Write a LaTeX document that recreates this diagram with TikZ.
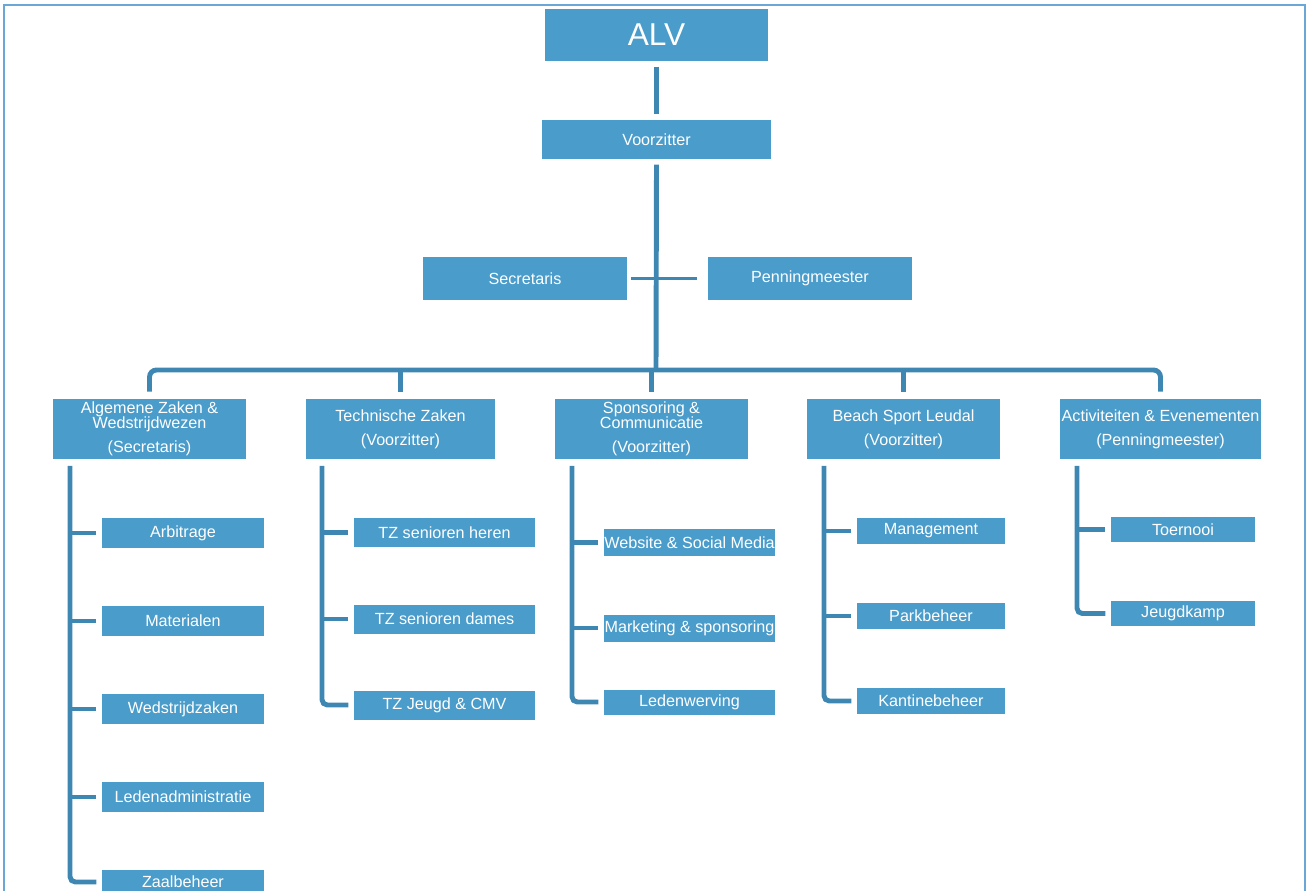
\documentclass[tikz,border=0pt]{standalone}
\usepackage{fontspec}
\setmainfont{Liberation Sans}
\usetikzlibrary{calc}

\definecolor{boxblue}{HTML}{4A9CCB}
\definecolor{lineblue}{HTML}{3F87B3}
\definecolor{frameblue}{HTML}{6AA6D6}
\newcommand{\pxu}{0.02cm}

\begin{document}
\begin{tikzpicture}[x=0.02cm, y=-0.02cm,
    box/.style={fill=boxblue, text=white, inner sep=0pt, align=center,
        font=\fontsize{9.2}{8.6}\selectfont},
    conn/.style={draw=lineblue, line width=2.8pt},
    thinconn/.style={draw=lineblue, line width=2.2pt}]
            \useasboundingbox (0,0) rectangle (1308,891);

            % Frame
            \draw[frameblue, line width=1pt] (4,5) rectangle (1305,910);

            % Top of the tree
            \node[box, minimum width=223*\pxu, minimum height=52*\pxu,
                font=\fontsize{18}{18}\selectfont] (alv) at (656.5,35) {ALV};
            \node[box, minimum width=229*\pxu, minimum height=39*\pxu] (voorz) at (656.5,139.5) {Voorzitter};
            \node[box, minimum width=204*\pxu, minimum height=43*\pxu] (secr) at (525,278.5) {Secretaris};
            \node[box, minimum width=204*\pxu, minimum height=43*\pxu] (penn) at (810,278.5) {Penningmeester};

            % Departments
            \node[box, minimum width=193*\pxu, minimum height=60*\pxu] (az) at (149.5,429)
                {Algemene Zaken \&\\Wedstrijdwezen\\[5pt](Secretaris)};
            \node[box, minimum width=189*\pxu, minimum height=60*\pxu] (tz) at (400.5,429)
                {Technische Zaken\\[5pt](Voorzitter)};
            \node[box, minimum width=193*\pxu, minimum height=60*\pxu] (sc) at (651.5,429)
                {Sponsoring \&\\Communicatie\\[5pt](Voorzitter)};
            \node[box, minimum width=193*\pxu, minimum height=60*\pxu] (bsl) at (903.5,429)
                {Beach Sport Leudal\\[5pt](Voorzitter)};
            \node[box, minimum width=201*\pxu, minimum height=60*\pxu] (ae) at (1160.5,429)
                {Activiteiten \& Evenementen\\[5pt](Penningmeester)};

            % Algemene Zaken
            \node[box, minimum width=162*\pxu, minimum height=30*\pxu] (arb) at (183,533) {Arbitrage};
            \node[box, minimum width=162*\pxu, minimum height=30*\pxu] (mat) at (183,621) {Materialen};
            \node[box, minimum width=162*\pxu, minimum height=30*\pxu] (wedz) at (183,709) {Wedstrijdzaken};
            \node[box, minimum width=162*\pxu, minimum height=30*\pxu] (ledadm) at (183,797) {Ledenadministratie};
            \node[box, minimum width=162*\pxu, minimum height=24*\pxu] (zaal) at (183,882) {Zaalbeheer};

            % Technische Zaken
            \node[box, minimum width=181*\pxu, minimum height=29*\pxu] (tzh) at (444.5,532.5) {TZ senioren heren};
            \node[box, minimum width=181*\pxu, minimum height=29*\pxu] (tzd) at (444.5,619) {TZ senioren dames};
            \node[box, minimum width=181*\pxu, minimum height=29*\pxu] (tzj) at (444.5,705) {TZ Jeugd \& CMV};

            % Sponsoring
            \node[box, minimum width=171*\pxu, minimum height=27*\pxu] (web) at (689.5,542.5) {Website \& Social Media};
            \node[box, minimum width=171*\pxu, minimum height=27*\pxu] (mark) at (689.5,628) {Marketing \& sponsoring};
            \node[box, minimum width=171*\pxu, minimum height=25*\pxu] (ledw) at (689.5,702) {Ledenwerving};

            % Beach
            \node[box, minimum width=148*\pxu, minimum height=26*\pxu] (man) at (931,531) {Management};
            \node[box, minimum width=148*\pxu, minimum height=26*\pxu] (park) at (931,616) {Parkbeheer};
            \node[box, minimum width=148*\pxu, minimum height=26*\pxu] (kant) at (931,701) {Kantinebeheer};

            % Activiteiten
            \node[box, minimum width=144*\pxu, minimum height=25*\pxu] (toer) at (1183,529.5) {Toernooi};
            \node[box, minimum width=144*\pxu, minimum height=25*\pxu] (jkamp) at (1183,613.5) {Jeugdkamp};

            % Main line
            \coordinate (bus) at (656,370);
            \draw[conn, shorten <=3pt, shorten >=3pt] (alv) -- (voorz);
            \draw[conn, shorten <=3pt] (voorz.south) -- (bus);
            \draw[thinconn, shorten <=2pt, shorten >=6pt] (secr) -- (penn);
            \draw[conn, rounded corners=4pt] ($(az.north)+(0,-7)$) |- (bus) -| ($(ae.north)+(0,-7)$);
            \draw[conn] ($(tz.north)+(0,-7)$) -- (tz.north |- bus);
            \draw[conn] ($(sc.north)+(0,-7)$) -- (sc.north |- bus);
            \draw[conn] ($(bsl.north)+(0,-7)$) -- (bsl.north |- bus);

            % Spines
            \coordinate (azs) at (70,466);
            \coordinate (tzs) at (322,466);
            \coordinate (scs) at (572,466);
            \coordinate (bss) at (824,466);
            \coordinate (aes) at (1077,466);
            \draw[conn, rounded corners=3pt, shorten >=3pt] (azs) |- (zaal.west);
            \draw[conn, rounded corners=3pt, shorten >=3pt] (tzs) |- (tzj.west);
            \draw[conn, rounded corners=3pt, shorten >=3pt] (scs) |- (ledw.west);
            \draw[conn, rounded corners=3pt, shorten >=3pt] (bss) |- (kant.west);
            \draw[conn, rounded corners=3pt, shorten >=3pt] (aes) |- (jkamp.west);
            \foreach \s/\c in {azs/arb, azs/mat, azs/wedz, azs/ledadm, tzs/tzh, tzs/tzd,
                scs/web, scs/mark, bss/man, bss/park, aes/toer}
                \draw[conn, shorten >=3pt] (\s |- \c.west) -- (\c.west);
        \end{tikzpicture}
\end{document}
